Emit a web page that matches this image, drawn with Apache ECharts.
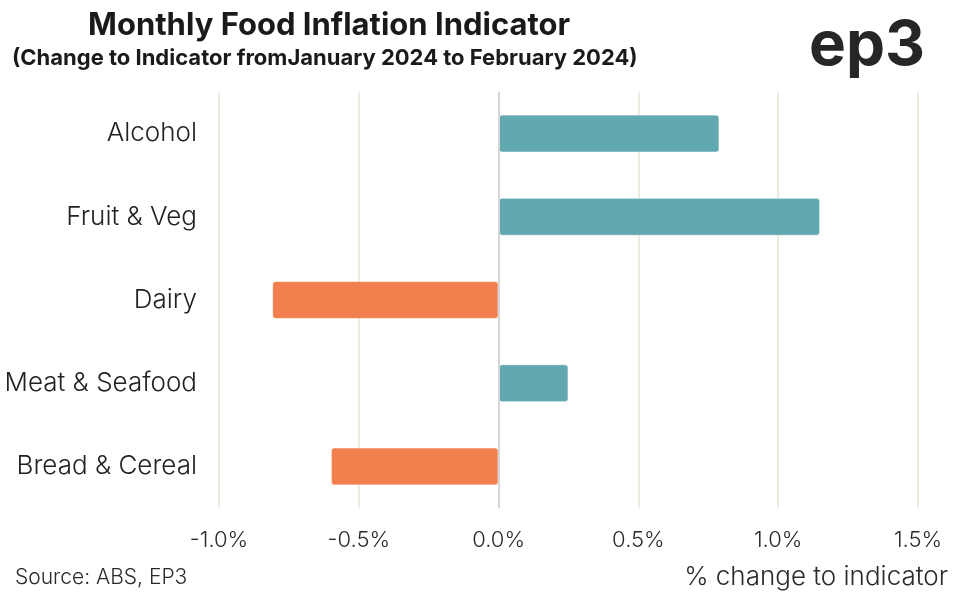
<!DOCTYPE html>
<html><head><meta charset="utf-8">
<script src="https://cdn.jsdelivr.net/npm/echarts@6/dist/echarts.min.js"></script>
<style>html,body{margin:0;padding:0;background:#fff}#c{width:956px;height:597px}</style>
</head><body><div id="c"></div>
<script>
var categories = ['Alcohol', 'Fruit & Veg', 'Dairy', 'Meat & Seafood', 'Bread & Cereal'];
var values = [0.79, 1.15, -0.81, 0.25, -0.60];
var tickMin = -1.0, tickMax = 1.5, tickStep = 0.5;
var titleText = 'Monthly Food Inflation Indicator';
var subtitleText = '(Change to Indicator fromJanuary 2024 to February 2024)';
var sourceText = 'Source: ABS, EP3';
var axisTitle = '% change to indicator';

var FONT = 'Inter, "Open Sans", sans-serif';
var chart = echarts.init(document.getElementById('c'), null, {renderer: 'canvas'});
chart.setOption({
  backgroundColor: '#ffffff',
  animation: false,
  grid: {left: 219, right: 38, top: 92, bottom: 89, containLabel: false},
  xAxis: {
    type: 'value', min: tickMin, max: tickMax, interval: tickStep,
    axisLine: {show: false}, axisTick: {show: false},
    splitLine: {show: true, lineStyle: {color: '#ecebe2', width: 2}},
    axisLabel: {
      fontFamily: FONT, fontSize: 22, fontWeight: 300, color: '#2a2a2a', margin: 21,
      formatter: function (v) { return v.toFixed(1) + '%'; }
    }
  },
  yAxis: {
    type: 'category', data: categories, inverse: true,
    axisLine: {show: false}, axisTick: {show: false}, splitLine: {show: false},
    axisLabel: {fontFamily: FONT, fontSize: 26, fontWeight: 300, color: '#222', margin: 22}
  },
  series: [{
    type: 'bar', data: values, barWidth: 38,
    itemStyle: {
      borderRadius: 3, borderColor: 'rgba(255,255,255,0.6)', borderWidth: 1,
      color: function (p) { return p.value < 0 ? '#f2804e' : '#62a8b0'; }
    },
    markLine: {
      silent: true, symbol: 'none', label: {show: false}, z: 10,
      lineStyle: {color: '#d6d6d6', width: 2, type: 'solid'},
      data: [{xAxis: 0}]
    }
  }],
  graphic: [
    {type: 'text', left: 88, top: 10, style: {text: titleText, fontFamily: FONT, fontSize: 31, fontWeight: 'bold', fill: '#1a1a1a'}},
    {type: 'text', left: 12, top: 47, style: {text: subtitleText, fontFamily: FONT, fontSize: 22, fontWeight: 'bold', fill: '#1a1a1a'}},
    {type: 'text', right: 31, top: 15, style: {text: 'ep3', fontFamily: FONT, fontSize: 62, fontWeight: 'bold', fill: '#262626'}},
    {type: 'text', left: 15, top: 567, style: {text: sourceText, fontFamily: FONT, fontSize: 21, fontWeight: 300, fill: '#2a2a2a'}},
    {type: 'text', right: 8, top: 564, style: {text: axisTitle, fontFamily: FONT, fontSize: 26, fontWeight: 300, fill: '#2a2a2a'}}
  ]
});
</script></body></html>
